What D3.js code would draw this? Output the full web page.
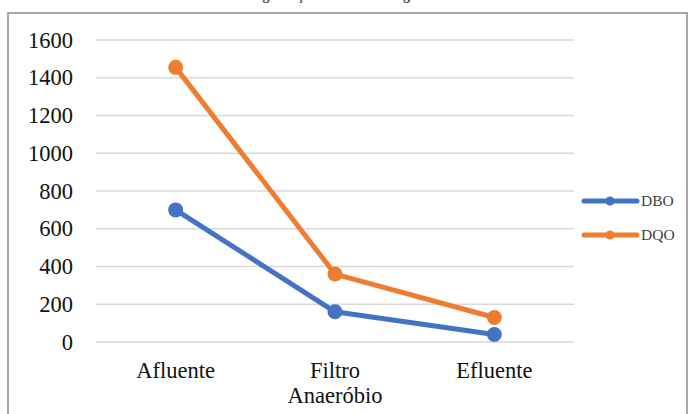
<!DOCTYPE html>
<html><head><meta charset="utf-8">
<script src="https://cdn.jsdelivr.net/npm/d3@7"></script>
<style>body{margin:0;background:#fff;}svg{display:block;} svg text{font-family:"Liberation Serif","Times New Roman",serif;}</style>
</head><body>
<svg id="c" width="691" height="414"></svg>
<script>
const categories = ["Afluente", "Filtro Anaeróbio", "Efluente"];
const seriesNames = ["DBO", "DQO"];
const dboValues = [700, 160, 40];
const dqoValues = [1455, 360, 130];
const yTicks = [0, 200, 400, 600, 800, 1000, 1200, 1400, 1600];
const colors = ["#4472C4", "#ED7D31"];
const title = "Degradação da matéria orgânica";

const svg = d3.select("#c");
svg.append("rect").attr("x", 8).attr("y", 13).attr("width", 679).attr("height", 420)
  .attr("fill", "#fff").attr("stroke", "#8c8c8c").attr("stroke-width", 1.5);

svg.append("text").attr("x", 344).attr("y", 0).attr("text-anchor", "middle")
  .attr("font-weight", "bold").attr("font-size", 14).attr("fill", "#404040").text(title);

const L = 96, R = 574, T = 40, B = 342;
const x = d3.scaleBand().domain(categories).range([L, R]);
const y = d3.scaleLinear().domain([0, 1600]).range([B, T]);

const grid = svg.append("g");
grid.selectAll("line").data(yTicks).join("line")
  .attr("x1", L).attr("x2", R).attr("y1", d => y(d)).attr("y2", d => y(d))
  .attr("stroke", "#d9d9d9").attr("stroke-width", 1.5);

const yAxis = svg.append("g").attr("transform", `translate(${L},0)`)
  .call(d3.axisLeft(y).tickValues(yTicks).tickFormat(d3.format("d")).tickSize(0).tickPadding(23));
yAxis.attr("font-family", null);
yAxis.select(".domain").remove();
yAxis.selectAll("text").attr("font-size", 22.5).attr("fill", "#111");

const xAxis = svg.append("g").attr("transform", `translate(0,${B})`)
  .call(d3.axisBottom(x).tickSize(0).tickPadding(0));
xAxis.attr("font-family", null);
xAxis.select(".domain").remove();
xAxis.selectAll("text").attr("font-size", 22.5).attr("fill", "#111")
  .each(function(d) {
    const t = d3.select(this);
    t.text(null).attr("y", 0).attr("dy", null);
    const words = d.split(" ");
    words.forEach((w, i) => {
      t.append("tspan").attr("x", 0).attr("y", 36 + i * 25).text(w);
    });
  });

const data = [dboValues, dqoValues];
const line = d3.line().x((d, i) => x(categories[i]) + x.bandwidth() / 2).y(d => y(d));
data.forEach((vals, si) => {
  const g = svg.append("g");
  g.append("path").datum(vals).attr("d", line).attr("fill", "none")
    .attr("stroke", colors[si]).attr("stroke-width", 5).attr("stroke-linejoin", "round");
  g.selectAll("circle").data(vals).join("circle")
    .attr("cx", (d, i) => x(categories[i]) + x.bandwidth() / 2).attr("cy", d => y(d))
    .attr("r", 7.5).attr("fill", colors[si]);
});

const leg = svg.append("g");
seriesNames.forEach((n, i) => {
  const ly = 201 + i * 34;
  leg.append("line").attr("x1", 584).attr("x2", 637).attr("y1", ly).attr("y2", ly)
    .attr("stroke", colors[i]).attr("stroke-width", 5).attr("stroke-linecap", "round");
  leg.append("circle").attr("cx", 610).attr("cy", ly).attr("r", 4.5).attr("fill", colors[i]);
  leg.append("text").attr("x", 641).attr("y", ly + 5).attr("font-size", 15.5)
    .attr("fill", "#404040").text(n);
});
</script>
</body></html>
